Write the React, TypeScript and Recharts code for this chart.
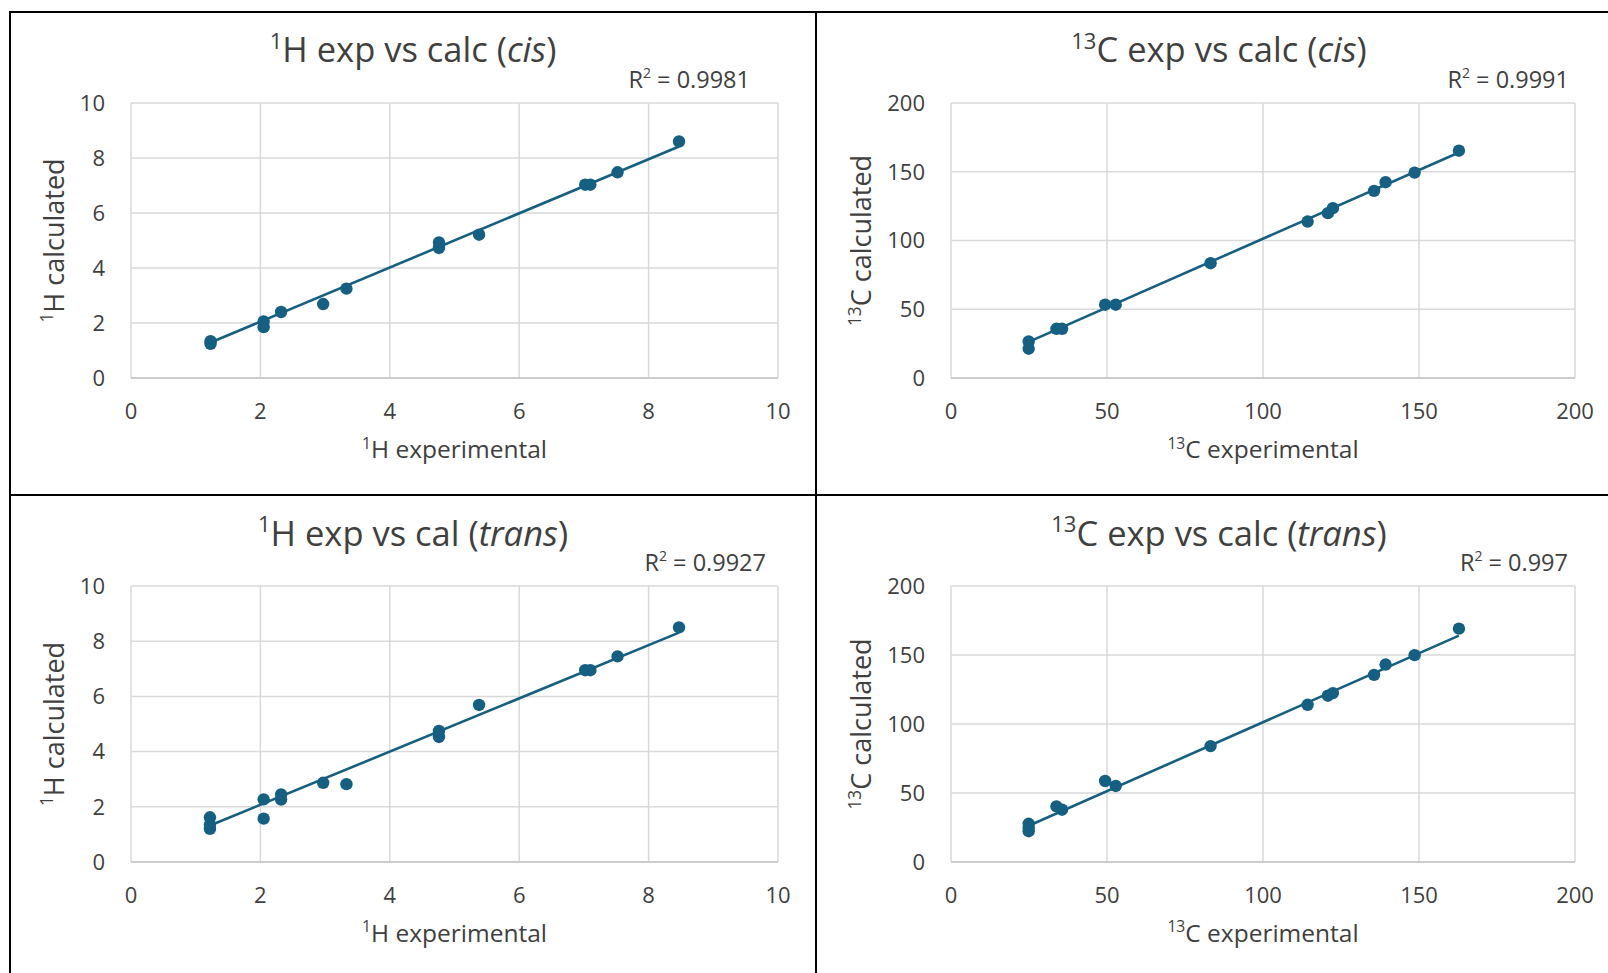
import React from 'react';
import { ScatterChart, Scatter, XAxis, YAxis, CartesianGrid, ReferenceLine } from 'recharts';

// ---- data ----
const cisHExp = [1.23, 1.23, 2.05, 2.05, 2.32, 2.97, 3.33, 4.76, 4.76, 5.38, 7.02, 7.10, 7.52, 8.47];
const cisHCalc = [1.34, 1.24, 2.06, 1.85, 2.40, 2.69, 3.25, 4.93, 4.73, 5.21, 7.03, 7.03, 7.48, 8.60];
const cisHTrend = [{ x: 1.23, y: 1.29 }, { x: 8.47, y: 8.42 }];

const transHExp = [1.22, 1.22, 1.22, 2.05, 2.05, 2.32, 2.32, 2.97, 3.33, 4.76, 4.76, 5.38, 7.02, 7.10, 7.52, 8.47];
const transHCalc = [1.62, 1.35, 1.20, 2.27, 1.57, 2.45, 2.26, 2.87, 2.82, 4.75, 4.53, 5.69, 6.95, 6.95, 7.45, 8.50];
const transHTrend = [{ x: 1.22, y: 1.32 }, { x: 8.47, y: 8.31 }];

const cisCExp = [24.9, 24.9, 33.8, 35.6, 49.4, 52.8, 83.2, 114.3, 120.8, 122.4, 135.6, 139.3, 148.6, 162.8];
const cisCCalc = [26.6, 21.3, 35.8, 35.8, 53.3, 53.3, 83.5, 113.8, 119.9, 123.5, 136.1, 142.4, 149.4, 165.3];
const cisCTrend = [{ x: 24.9, y: 26.3 }, { x: 162.8, y: 164.0 }];

const transCExp = [24.9, 24.9, 24.9, 33.8, 35.6, 49.4, 52.8, 83.2, 114.3, 120.8, 122.4, 135.6, 139.3, 148.6, 162.8];
const transCCalc = [27.7, 25.0, 22.3, 40.3, 37.9, 58.7, 55.1, 84.0, 113.9, 120.5, 122.4, 135.6, 143.1, 149.9, 169.1];
const transCTrend = [{ x: 24.9, y: 26.3 }, { x: 162.8, y: 164.0 }];

const hTicks = [0, 2, 4, 6, 8, 10];
const cTicks = [0, 50, 100, 150, 200];

const r2Labels = ['0.9981', '0.9991', '0.9927', '0.997'];

// ---- styles ----
const COLOR = '#156082';
const GRID = '#d9d9d9';
const TEXT = '#404040';
const FONT = '"Open Sans", "Noto Sans", sans-serif';

const toPoints = (xs: number[], ys: number[]) => xs.map((x, i) => ({ x, y: ys[i] }));

const Dot = (p: any) => <circle cx={p.cx} cy={p.cy} r={6.2} fill={COLOR} />;

type PanelProps = {
  left: number; top: number; width: number; height: number;
  yAxisWidth: number; xAxisHeight: number; marginRight: number;
  domain: [number, number]; ticks: number[];
  points: { x: number; y: number }[];
  trend: { x: number; y: number }[];
};

function Panel(p: PanelProps) {
  return (
    <div style={{ position: 'absolute', left: p.left, top: p.top, width: p.width, height: p.height }}>
      <ScatterChart width={p.width} height={p.height} margin={{ top: 90, right: p.marginRight, bottom: 0, left: 0 }}>
        <CartesianGrid stroke={GRID} strokeWidth={1.5} />
        <XAxis
          type="number" dataKey="x" domain={p.domain} ticks={p.ticks} height={p.xAxisHeight}
          tickSize={0} tickMargin={25} interval={0}
          axisLine={{ stroke: '#c4c4c4', strokeWidth: 1.5 }}
          tick={{ fill: TEXT, fontSize: 22, fontFamily: FONT }}
        />
        <YAxis
          type="number" dataKey="y" domain={p.domain} ticks={p.ticks} width={p.yAxisWidth}
          tickSize={0} tickMargin={26} interval={0} axisLine={false}
          tick={{ fill: TEXT, fontSize: 22, fontFamily: FONT }}
        />
        <ReferenceLine segment={p.trend} stroke={COLOR} strokeWidth={2.6} ifOverflow="visible" />
        <Scatter data={p.points} shape={Dot} isAnimationActive={false} />
      </ScatterChart>
    </div>
  );
}

function TitleText({ x, y, nuc, mid, ital, size }: any) {
  const s = size * 0.64;
  return (
    <text x={x} y={y} textAnchor="middle" fontFamily={FONT} fontSize={size} fill={TEXT}>
      <tspan fontSize={s} dy={-size * 0.38}>{nuc.sup}</tspan>
      <tspan dy={size * 0.38}>{nuc.el + mid + ' ('}</tspan>
      <tspan fontStyle="italic">{ital}</tspan>
      <tspan>)</tspan>
    </text>
  );
}

function AxisText({ x, y, nuc, rest, size, rotate }: any) {
  const s = size * 0.64;
  return (
    <text x={x} y={y} textAnchor="middle" fontFamily={FONT} fontSize={size} fill={TEXT}
      transform={rotate ? `rotate(-90 ${x} ${y})` : undefined}>
      <tspan fontSize={s} dy={-size * 0.38}>{nuc.sup}</tspan>
      <tspan dy={size * 0.38}>{nuc.el + ' ' + rest}</tspan>
    </text>
  );
}

function R2({ x, y, value }: any) {
  return (
    <text x={x} y={y} textAnchor="end" fontFamily={FONT} fontSize={23.5} fill={TEXT}>
      <tspan>R</tspan>
      <tspan fontSize={14} dy={-10}>2</tspan>
      <tspan dy={10}>{' = ' + value}</tspan>
    </text>
  );
}

const H = { sup: '1', el: 'H' };
const C = { sup: '13', el: 'C' };

export default function App() {
  return (
    <div style={{ position: 'absolute', left: 0, top: 0, width: 1608, height: 973, background: '#fff', overflow: 'hidden' }}>
      <Panel left={11} top={13} width={804} height={481} yAxisWidth={120} xAxisHeight={116} marginRight={37}
        domain={[0, 10]} ticks={hTicks} points={toPoints(cisHExp, cisHCalc)} trend={cisHTrend} />
      <Panel left={817} top={13} width={791} height={481} yAxisWidth={134} xAxisHeight={116} marginRight={33}
        domain={[0, 200]} ticks={cTicks} points={toPoints(cisCExp, cisCCalc)} trend={cisCTrend} />
      <Panel left={11} top={496} width={804} height={477} yAxisWidth={120} xAxisHeight={111} marginRight={37}
        domain={[0, 10]} ticks={hTicks} points={toPoints(transHExp, transHCalc)} trend={transHTrend} />
      <Panel left={817} top={496} width={791} height={477} yAxisWidth={134} xAxisHeight={111} marginRight={33}
        domain={[0, 200]} ticks={cTicks} points={toPoints(transCExp, transCCalc)} trend={transCTrend} />

      <svg width={1608} height={973} style={{ position: 'absolute', left: 0, top: 0, pointerEvents: 'none' }}>
        {/* table borders */}
        <line x1={9} y1={12} x2={1608} y2={12} stroke="#000" strokeWidth={2} />
        <line x1={10} y1={11} x2={10} y2={973} stroke="#000" strokeWidth={2} />
        <line x1={816} y1={11} x2={816} y2={973} stroke="#000" strokeWidth={2} />
        <line x1={9} y1={495} x2={1608} y2={495} stroke="#000" strokeWidth={2} />

        {/* titles */}
        <TitleText x={413} y={62} nuc={H} mid=" exp vs calc" ital="cis" size={34.5} />
        <TitleText x={1219} y={62} nuc={C} mid=" exp vs calc" ital="cis" size={34.5} />
        <TitleText x={413} y={545.5} nuc={H} mid=" exp vs cal" ital="trans" size={34.5} />
        <TitleText x={1219} y={545.5} nuc={C} mid=" exp vs calc" ital="trans" size={34.5} />

        {/* R2 labels */}
        <R2 x={750} y={88} value={r2Labels[0]} />
        <R2 x={1569} y={88} value={r2Labels[1]} />
        <R2 x={766} y={571} value={r2Labels[2]} />
        <R2 x={1568} y={571} value={r2Labels[3]} />

        {/* axis titles */}
        <AxisText x={454.5} y={458} nuc={H} rest="experimental" size={24.5} />
        <AxisText x={1263} y={458} nuc={C} rest="experimental" size={24.5} />
        <AxisText x={454.5} y={941.5} nuc={H} rest="experimental" size={24.5} />
        <AxisText x={1263} y={941.5} nuc={C} rest="experimental" size={24.5} />

        <AxisText x={63.5} y={240.5} nuc={H} rest="calculated" size={27} rotate />
        <AxisText x={871} y={240.5} nuc={C} rest="calculated" size={27} rotate />
        <AxisText x={63.5} y={724} nuc={H} rest="calculated" size={27} rotate />
        <AxisText x={871} y={724} nuc={C} rest="calculated" size={27} rotate />
      </svg>
    </div>
  );
}
